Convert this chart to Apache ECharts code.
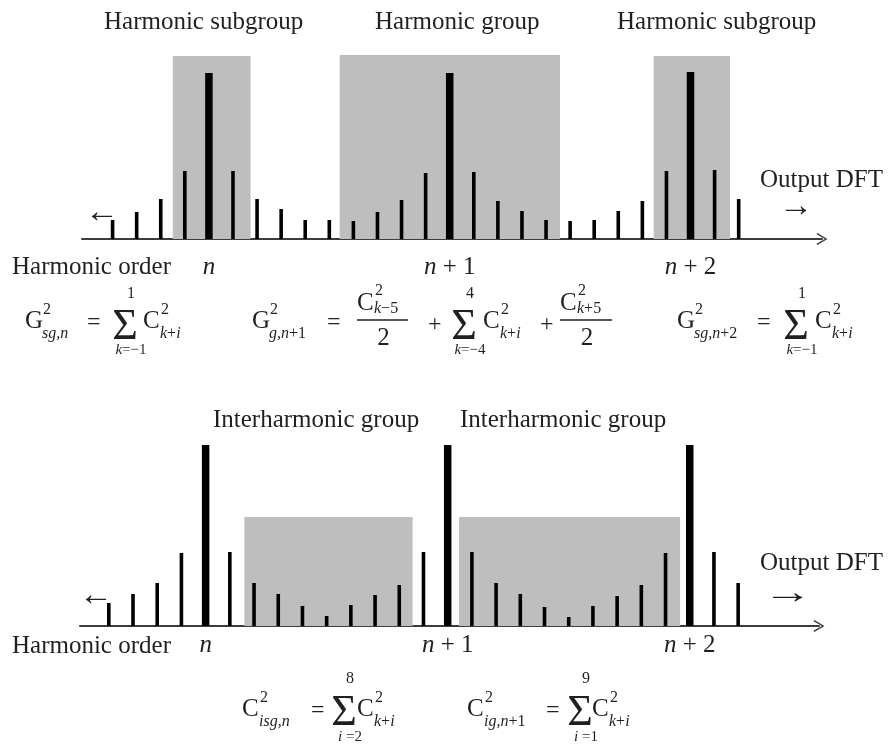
<!DOCTYPE html>
<html><head><meta charset="utf-8">
<script src="https://cdn.jsdelivr.net/npm/echarts@6/dist/echarts.min.js"></script>
<style>html,body{margin:0;padding:0;background:#fff}#c{width:893px;height:744px}</style>
</head><body><div id="c"></div>
<script>
// ---------- data ----------
const topBins = [-4,-3,-2,-1,0,1,2,3,4,5,6,7,8,9,10,11,12,13,14,15,16,17,18,19,20,21,22];
const topAmps = [19,27,40,68,166,68,40,30,19,19,18,27,39,66,166,67,38,28,19,18,19,28,38,68,167,69,40];
const bottomBins = [-4,-3,-2,-1,0,1,2,3,4,5,6,7,8,9,10,11,12,13,14,15,16,17,18,19,20,21,22];
const bottomAmps = [23,32,43,73,181,74,43,32,20,10,21,31,41,74,181,74,43,32,19,9,20,30,41,73,181,74,43];
const tickBins = [0, 10, 20];
const tickLabels = ['n', 'n + 1', 'n + 2'];
// shaded groups: [fromBin, toBin, height]
const topGroups = [[-1.5, 1.73, 183], [5.43, 14.58, 184], [18.47, 21.64, 183]];
const bottomGroups = [[1.6, 8.55, 109], [10.47, 19.6, 109]];
const topTitles = ['Harmonic subgroup', 'Harmonic group', 'Harmonic subgroup'];
const bottomTitles = ['Interharmonic group', 'Interharmonic group'];
const axisTitle = 'Harmonic order';
const outputTitle = 'Output DFT';

// ---------- styling helpers ----------
const SERIF = '"Liberation Serif","Times New Roman",serif';
const INK = '#231f20';
const chevron = 'path://M0,10 L6,0 L12,10 L10.8,10.9 L6,2.6 L1.2,10.9 Z';

function txt(x, y, s, size, opt) {
  opt = opt || {};
  const st = {
    text: s,
    font: (opt.italic ? 'italic ' : '') + size + 'px ' + SERIF,
    fill: INK,
    align: opt.align || 'left',
    verticalAlign: 'middle'
  };
  if (opt.rich) st.rich = opt.rich;
  const el = { type: 'text', x: x, y: y, style: st, silent: true, z: 10 };
  if (opt.scaleX) { el.scaleX = opt.scaleX; }
  return el;
}
function richSub(size) {
  return {
    i: { fontFamily: SERIF, fontStyle: 'italic', fontSize: size, fill: INK },
    r: { fontFamily: SERIF, fontSize: size, fill: INK }
  };
}
function sub(x, y, markup, size, align) {
  return txt(x, y, markup, size, { rich: richSub(size), align: align });
}
function hline(x1, x2, y) {
  return { type: 'line', shape: { x1: x1, y1: y, x2: x2, y2: y }, style: { stroke: INK, lineWidth: 1.3 }, silent: true, z: 10 };
}
// term like C^2_{k+i}
function term(x, y, base, supTxt, subMarkup, supDy, subDy) {
  const dx = 18;
  return [
    txt(x, y, base, 25),
    txt(x + dx, y - (supDy || 11), supTxt, 16),
    sub(x + dx - 1, y + (subDy || 13), subMarkup, 16)
  ];
}
function sigma(cx, cy, upper, lowerMarkup, dyUp, dyLow) {
  return [
    txt(cx, cy, 'Σ', 44, { align: 'center' }),
    txt(cx + 6, cy - (dyUp || 33), upper, 16, { align: 'center' }),
    sub(cx + 6, cy + (dyLow || 23), lowerMarkup, 15, 'center')
  ];
}
function frac(x, x2, y, cSub) {
  return [].concat(
    term(x, y - 17, 'C', '2', cSub, 12, 6),
    [hline(x, x2, y), txt((x + x2) / 2 + 1, y + 18, '2', 25, { align: 'center' })]
  );
}

// ---------- graphic annotations ----------
let g = [];
// top titles
g.push(txt(104, 22, topTitles[0], 25));
g.push(txt(375, 22, topTitles[1], 25));
g.push(txt(617, 22, topTitles[2], 25));
g.push(txt(760, 180, outputTitle, 25));
g.push(txt(779, 207, '→', 34, { scaleX: 1.0 }));
g.push(txt(85, 213, '←', 34));
g.push(txt(12, 267, axisTitle, 25));
// top formulas
g = g.concat(term(25, 321, 'G', '2', '{i|sg,n}'));
g.push(txt(87, 323, '=', 24));
g = g.concat(sigma(125, 327, '1', '{i|k}{r|=−1}'));
g = g.concat(term(143, 321, 'C', '2', '{i|k}{r|+}{i|i}'));

g = g.concat(term(252, 321, 'G', '2', '{i|g,n}{r|+1}'));
g.push(txt(327, 323, '=', 24));
g = g.concat(frac(357, 408, 320, '{i|k}{r|−5}'));
g.push(txt(428, 325, '+', 24));
g = g.concat(sigma(464, 327, '4', '{i|k}{r|=−4}'));
g = g.concat(term(483, 321, 'C', '2', '{i|k}{r|+}{i|i}'));
g.push(txt(540, 325, '+', 24));
g = g.concat(frac(560, 612, 320, '{i|k}{r|+5}'));

g = g.concat(term(677, 321, 'G', '2', '{i|sg,n}{r|+2}'));
g.push(txt(757, 323, '=', 24));
g = g.concat(sigma(796, 327, '1', '{i|k}{r|=−1}'));
g = g.concat(term(815, 321, 'C', '2', '{i|k}{r|+}{i|i}'));

// bottom titles
g.push(txt(213, 420, bottomTitles[0], 25));
g.push(txt(460, 420, bottomTitles[1], 25));
g.push(txt(760, 563, outputTitle, 25));
g.push(txt(763, 594, '→', 34, { scaleX: 1.45 }));
g.push(txt(79, 596, '←', 34));
g.push(txt(12, 646, axisTitle, 25));
// bottom formulas
g = g.concat(term(242, 709, 'C', '2', '{i|isg,n}'));
g.push(txt(311, 711, '=', 24));
g = g.concat(sigma(344, 713, '8', '{i|i}{r| =2}', 34, 24));
g = g.concat(term(357, 709, 'C', '2', '{i|k}{r|+}{i|i}'));

g = g.concat(term(467, 709, 'C', '2', '{i|ig,n}{r|+1}'));
g.push(txt(546, 711, '=', 24));
g = g.concat(sigma(580, 713, '9', '{i|i}{r| =1}', 34, 24));
g = g.concat(term(592, 709, 'C', '2', '{i|k}{r|+}{i|i}'));

// ---------- series builders ----------
function barSeries(gi, bins, amps) {
  return {
    type: 'custom', xAxisIndex: gi, yAxisIndex: gi, z: 3, silent: true,
    data: bins.map((b, i) => [b, amps[i]]),
    encode: { x: 0, y: 1 },
    renderItem: function (params, api) {
      const b = api.value(0), v = api.value(1);
      const p0 = api.coord([b, 0]), p1 = api.coord([b, v]);
      const w = (b % 10 === 0) ? 7.5 : 3.6;
      return { type: 'rect', shape: { x: p0[0] - w / 2, y: p1[1], width: w, height: p0[1] - p1[1] }, style: { fill: '#000' } };
    }
  };
}
function groupSeries(gi, groups) {
  return {
    type: 'custom', xAxisIndex: gi, yAxisIndex: gi, z: 1, silent: true,
    data: groups,
    encode: { x: [0, 1], y: 2 },
    renderItem: function (params, api) {
      const a = api.coord([api.value(0), api.value(2)]);
      const b = api.coord([api.value(1), 0]);
      return { type: 'rect', shape: { x: a[0], y: a[1], width: b[0] - a[0], height: b[1] - a[1] }, style: { fill: '#bebebe' } };
    }
  };
}
function xAxisDef(gi, min, max, margin) {
  return {
    type: 'value', gridIndex: gi, min: min, max: max,
    axisLine: { show: true, onZero: false, symbol: ['none', chevron], symbolSize: [18, 11], lineStyle: { color: '#3c3c3c', width: 2 } },
    axisTick: { show: false },
    splitLine: { show: false },
    axisLabel: {
      show: true, customValues: tickBins, margin: margin, color: INK,
      fontFamily: SERIF, fontSize: 25,
      formatter: function (v) {
        const idx = tickBins.indexOf(Math.round(v));
        if (idx < 0) return '';
        const s = tickLabels[idx];
        return '{i|n}' + s.slice(1);
      },
      rich: { i: { fontStyle: 'italic', fontFamily: SERIF, fontSize: 25, color: INK } }
    }
  };
}
function yAxisDef(gi) {
  return { type: 'value', gridIndex: gi, min: 0, max: 200, show: false };
}

const option = {
  animation: false,
  backgroundColor: '#fff',
  grid: [
    { left: 82, top: 39, width: 740, height: 200 },
    { left: 80, top: 426, width: 739, height: 200 }
  ],
  xAxis: [xAxisDef(0, -5.27, 25.46, 16), xAxisDef(1, -5.19, 25.34, 7)],
  yAxis: [yAxisDef(0), yAxisDef(1)],
  series: [
    groupSeries(0, topGroups), barSeries(0, topBins, topAmps),
    groupSeries(1, bottomGroups), barSeries(1, bottomBins, bottomAmps)
  ],
  graphic: { elements: g }
};
const chart = echarts.init(document.getElementById('c'), null, { renderer: 'canvas' });
chart.setOption(option);
</script>
</body></html>
